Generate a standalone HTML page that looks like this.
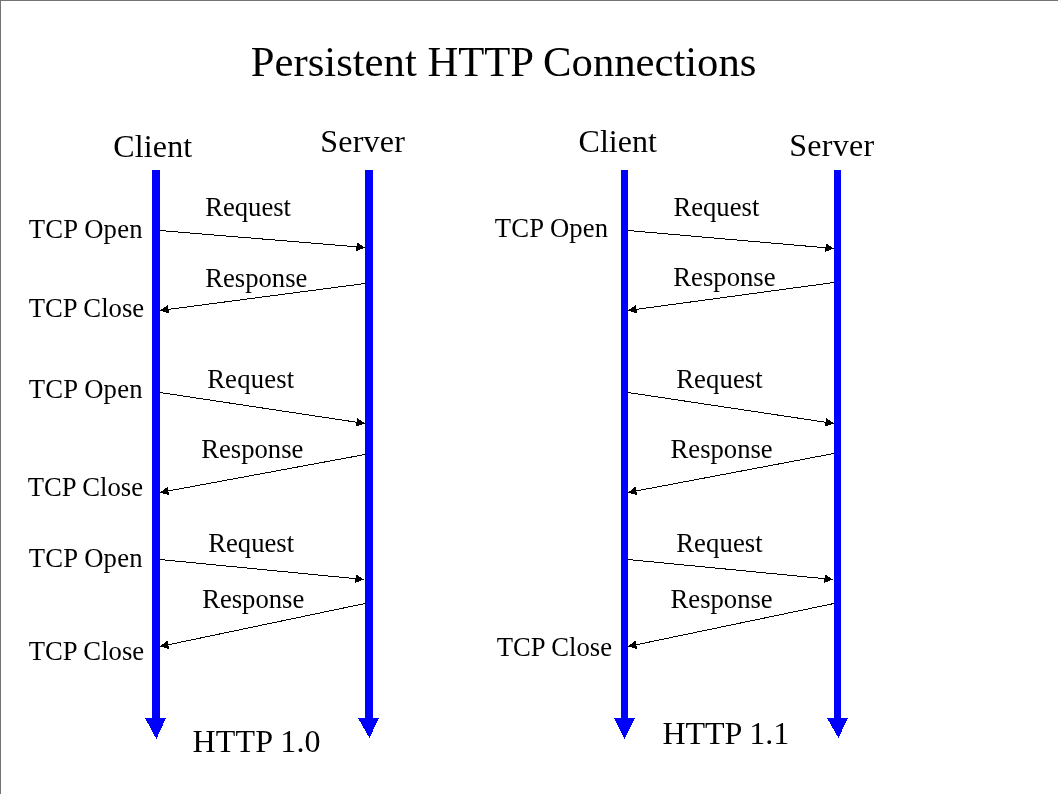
<!DOCTYPE html>
<html><head><meta charset="utf-8"><style>
html,body{margin:0;padding:0;background:#fff;}
body{width:1058px;height:794px;overflow:hidden;position:relative;}
svg{position:absolute;left:0;top:0;will-change:transform;}
text{font-family:"Liberation Serif",serif;fill:#000;}
</style></head><body>
<svg width="1058" height="794" viewBox="0 0 1058 794">
<rect x="0" y="0" width="1058" height="794" fill="#fff"/>
<rect x="0" y="0" width="1058" height="1" fill="#737373"/>
<rect x="0" y="0" width="1" height="794" fill="#737373"/>

<text x="250.87" y="75.80" font-size="42.67">Persistent HTTP Connections</text>
<text x="113.29" y="156.90" font-size="32" letter-spacing="0.15">Client</text>
<text x="320.16" y="151.90" font-size="32" letter-spacing="0.25">Server</text>
<text x="28.82" y="237.80" font-size="26.67" letter-spacing="0.20">TCP Open</text>
<text x="28.82" y="316.80" font-size="26.67">TCP Close</text>
<text x="205.13" y="215.50" font-size="26.67">Request</text>
<text x="205.23" y="286.80" font-size="26.67">Response</text>
<text x="28.82" y="397.80" font-size="26.67" letter-spacing="0.20">TCP Open</text>
<text x="207.13" y="387.60" font-size="26.67" letter-spacing="0.20">Request</text>
<text x="201.23" y="457.60" font-size="26.67">Response</text>
<text x="27.72" y="496.10" font-size="26.67">TCP Close</text>
<text x="28.82" y="566.80" font-size="26.67" letter-spacing="0.20">TCP Open</text>
<text x="208.23" y="551.65" font-size="26.67">Request</text>
<text x="202.13" y="607.60" font-size="26.67">Response</text>
<text x="28.82" y="659.80" font-size="26.67">TCP Close</text>
<text x="192.38" y="752.05" font-size="32" letter-spacing="0.20">HTTP 1.0</text>
<text x="578.59" y="151.90" font-size="32">Client</text>
<text x="789.16" y="155.90" font-size="32" letter-spacing="0.30">Server</text>
<text x="494.82" y="236.80" font-size="26.67" letter-spacing="0.15">TCP Open</text>
<text x="673.43" y="215.50" font-size="26.67">Request</text>
<text x="673.33" y="286.40" font-size="26.67">Response</text>
<text x="676.23" y="387.60" font-size="26.67" letter-spacing="0.10">Request</text>
<text x="670.53" y="457.60" font-size="26.67">Response</text>
<text x="676.23" y="551.65" font-size="26.67" letter-spacing="0.10">Request</text>
<text x="670.53" y="607.60" font-size="26.67">Response</text>
<text x="496.72" y="655.70" font-size="26.67">TCP Close</text>
<text x="662.38" y="743.60" font-size="32">HTTP 1.1</text>
<rect x="152" y="170" width="8" height="549" fill="#0000ff"/>
<polygon points="145,718 166,718 156.4,739" fill="#0000ff" shape-rendering="crispEdges"/>
<rect x="365" y="170" width="8" height="549" fill="#0000ff"/>
<polygon points="358,718 379,718 369.4,738" fill="#0000ff" shape-rendering="crispEdges"/>
<rect x="621" y="170" width="7" height="549" fill="#0000ff"/>
<polygon points="614,718 635,718 624.6,739" fill="#0000ff" shape-rendering="crispEdges"/>
<rect x="834" y="170" width="7" height="549" fill="#0000ff"/>
<polygon points="827,718 848,718 838.4,738" fill="#0000ff" shape-rendering="crispEdges"/>
<line x1="160" y1="230.5" x2="356.53" y2="246.80" stroke="#000" stroke-width="1" shape-rendering="crispEdges"/>
<polygon points="365,247.5 356.17,251.08 356.88,242.51" fill="#000" shape-rendering="crispEdges"/>
<line x1="365" y1="283.5" x2="168.43" y2="309.39" stroke="#000" stroke-width="1" shape-rendering="crispEdges"/>
<polygon points="160,310.5 167.87,305.13 168.99,313.65" fill="#000" shape-rendering="crispEdges"/>
<line x1="160" y1="392.5" x2="356.60" y2="422.23" stroke="#000" stroke-width="1" shape-rendering="crispEdges"/>
<polygon points="365,423.5 355.95,426.48 357.24,417.98" fill="#000" shape-rendering="crispEdges"/>
<line x1="365" y1="454.5" x2="168.36" y2="490.95" stroke="#000" stroke-width="1" shape-rendering="crispEdges"/>
<polygon points="160,492.5 167.57,486.72 169.14,495.18" fill="#000" shape-rendering="crispEdges"/>
<line x1="160" y1="559.5" x2="355.54" y2="578.67" stroke="#000" stroke-width="1" shape-rendering="crispEdges"/>
<polygon points="364,579.5 355.12,582.95 355.96,574.39" fill="#000" shape-rendering="crispEdges"/>
<line x1="365" y1="603.5" x2="168.32" y2="644.76" stroke="#000" stroke-width="1" shape-rendering="crispEdges"/>
<polygon points="160,646.5 167.44,640.55 169.20,648.96" fill="#000" shape-rendering="crispEdges"/>
<line x1="628" y1="230.5" x2="825.53" y2="247.76" stroke="#000" stroke-width="1" shape-rendering="crispEdges"/>
<polygon points="834,248.5 825.16,252.04 825.91,243.48" fill="#000" shape-rendering="crispEdges"/>
<line x1="834" y1="282.5" x2="636.42" y2="309.36" stroke="#000" stroke-width="1" shape-rendering="crispEdges"/>
<polygon points="628,310.5 635.84,305.09 637.00,313.62" fill="#000" shape-rendering="crispEdges"/>
<line x1="628" y1="392.5" x2="825.59" y2="422.24" stroke="#000" stroke-width="1" shape-rendering="crispEdges"/>
<polygon points="834,423.5 824.95,426.49 826.23,417.98" fill="#000" shape-rendering="crispEdges"/>
<line x1="834" y1="453.5" x2="636.35" y2="490.92" stroke="#000" stroke-width="1" shape-rendering="crispEdges"/>
<polygon points="628,492.5 635.55,486.69 637.15,495.14" fill="#000" shape-rendering="crispEdges"/>
<line x1="628" y1="559.5" x2="824.54" y2="578.67" stroke="#000" stroke-width="1" shape-rendering="crispEdges"/>
<polygon points="833,579.5 824.12,582.95 824.96,574.39" fill="#000" shape-rendering="crispEdges"/>
<line x1="834" y1="603.5" x2="636.32" y2="644.76" stroke="#000" stroke-width="1" shape-rendering="crispEdges"/>
<polygon points="628,646.5 635.44,640.55 637.20,648.97" fill="#000" shape-rendering="crispEdges"/>
</svg></body></html>
